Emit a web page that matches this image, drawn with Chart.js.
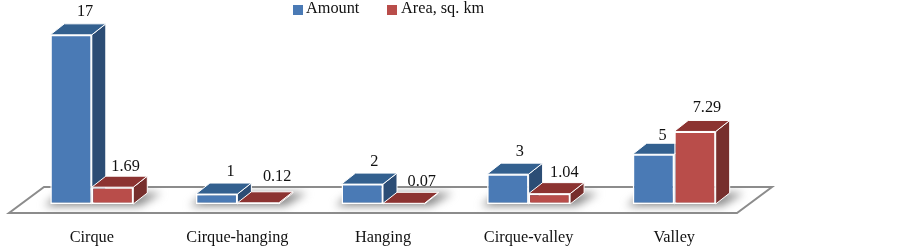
<!DOCTYPE html>
<html><head><meta charset="utf-8">
<style>html,body{margin:0;padding:0;background:#fff}canvas{display:block}</style>
<script src="https://cdn.jsdelivr.net/npm/chart.js@4"></script>
</head><body><canvas id="c" width="902" height="247"></canvas>
<script>
const categories = ['Cirque','Cirque-hanging','Hanging','Cirque-valley','Valley'];
const amount = [17,1,2,3,5];
const area = [1.69,0.12,0.07,1.04,7.29];
const seriesNames = ['Amount','Area, sq. km'];
const frontColors = ['#4a7ab5','#b94d4a'];
const topColors = ['#33608f','#8c3331'];
const sideColors = ['#2c4d75','#772f2d'];
const DX = 14, DY = 11;
const FONT = '"Liberation Serif"';
const FS = 16.3;
// hand placement of value labels in the original, relative to the default spot
const labelNudge = [
  [[2,0],[2,1],[0,1],[0,1],[-3,4]],
  [[1,3],[7,-3],[6,1],[3,2],[0,-1]]
];

function poly(ctx, pts, fill, stroke, lw){
  ctx.beginPath();
  pts.forEach((p,i)=> i ? ctx.lineTo(p[0],p[1]) : ctx.moveTo(p[0],p[1]));
  ctx.closePath();
  if(fill){ctx.fillStyle=fill;ctx.fill();}
  if(stroke){ctx.strokeStyle=stroke;ctx.lineWidth=lw;ctx.lineJoin='miter';ctx.stroke();}
}
const bars3d = {
  id:'bars3d',
  beforeDatasetsDraw(chart){
    const ctx=chart.ctx, a=chart.chartArea, y0=chart.scales.y.getPixelForValue(0);
    const floor=[[a.left-10,y0+9],[a.right-10,y0+9],[a.right+25,y0-17],[a.left+25,y0-17]];
    ctx.save();
    poly(ctx,floor,'#fff','#8c8c8c',2);
    ctx.save();
    poly(ctx,floor);ctx.clip();
    ctx.filter='blur(4px)';
    const m0=chart.getDatasetMeta(0), m1=chart.getDatasetMeta(1);
    categories.forEach((_,i)=>{
      const l=m0.data[i].x-m0.data[i].width/2, r=m1.data[i].x+m1.data[i].width/2;
      poly(ctx,[[l-6,y0+2],[r+6,y0+2],[r+DX+14,y0-DY],[l+10,y0-DY]],'#8a8a8a');
    });
    ctx.restore();
    categories.forEach((_,i)=>{
      [0,1].forEach(d=>{
        const b=chart.getDatasetMeta(d).data[i];
        const l=b.x-b.width/2, r=b.x+b.width/2, t=b.y, base=b.base;
        poly(ctx,[[r,t],[r+DX,t-DY],[r+DX,base-DY],[r,base]],sideColors[d],'#fff',1);
        poly(ctx,[[l,t],[l+DX,t-DY],[r+DX,t-DY],[r,t]],topColors[d],'#fff',1);
        b.draw(ctx);
      });
    });
    ctx.fillStyle='#111';ctx.font=FS+'px '+FONT;ctx.textAlign='center';ctx.textBaseline='middle';
    [amount,area].forEach((vals,d)=>{
      const m=chart.getDatasetMeta(d);
      vals.forEach((v,i)=>{
        const b=m.data[i], n=labelNudge[d][i];
        ctx.fillText(String(v),b.x+DX-2+n[0],b.y-DY-12+n[1]);
      });
    });
    ctx.textAlign='left';
    [[293,306],[387,401]].forEach((p,d)=>{
      ctx.fillStyle=frontColors[d];
      ctx.fillRect(p[0],5,10,10);
      ctx.fillStyle='#111';
      ctx.fillText(seriesNames[d],p[1],9);
    });
    ctx.restore();
    return false;
  }
};
new Chart(document.getElementById('c'),{
  type:'bar',
  plugins:[bars3d],
  data:{labels:categories,datasets:[
    {label:seriesNames[0],data:amount,backgroundColor:frontColors[0],borderColor:'#fff',borderWidth:1.5,borderSkipped:false},
    {label:seriesNames[1],data:area,backgroundColor:frontColors[1],borderColor:'#fff',borderWidth:1.5,borderSkipped:false}
  ]},
  options:{
    responsive:false,animation:false,
    layout:{padding:{left:19,right:155,top:0,bottom:0}},
    datasets:{bar:{categoryPercentage:0.57,barPercentage:1}},
    scales:{
      x:{grid:{display:false},border:{display:false},
         afterFit(scale){scale.height=43;},
         ticks:{color:'#111',font:{family:FONT,size:FS},padding:16,maxRotation:0}},
      y:{display:false,min:0,max:20.5}
    },
    plugins:{tooltip:{enabled:false},legend:{display:false}}
  }
});
</script></body></html>
